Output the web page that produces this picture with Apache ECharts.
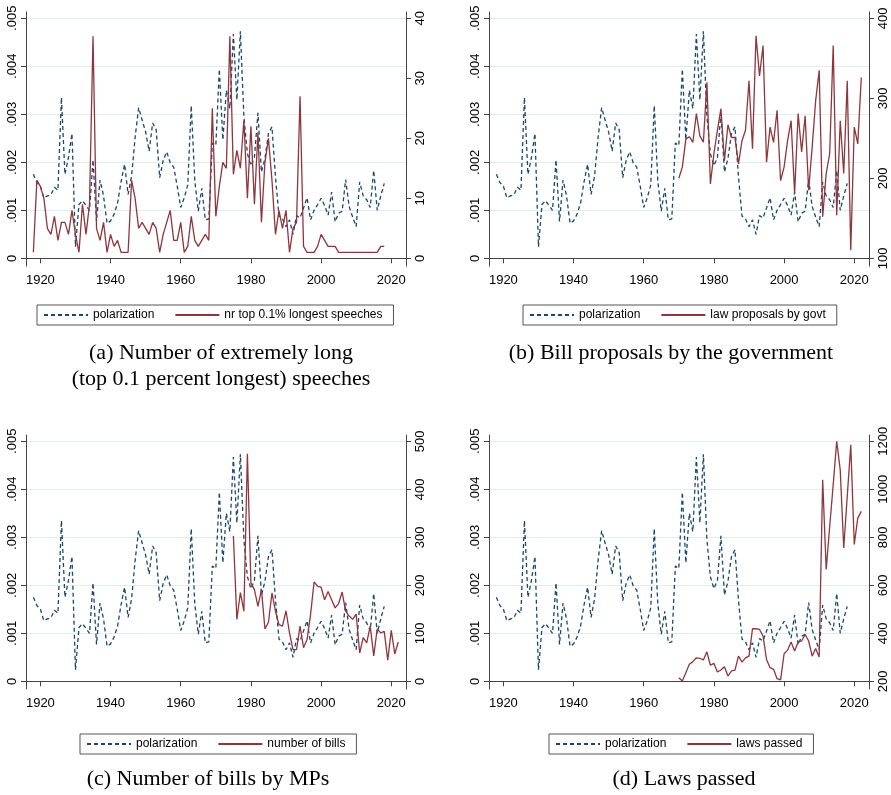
<!DOCTYPE html>
<html>
<head>
<meta charset="utf-8"/>
<title>Polarization and legislative activity</title>
<script src="https://cdn.jsdelivr.net/npm/echarts@6.0.0/dist/echarts.min.js"></script>
<style>
    html, body { margin: 0; padding: 0; background: #fff; }
    #main { width: 891px; height: 795px; }
</style>
</head>
<body>
<div id="main"></div>
<script>
    // ---- data ----
    var polStart = 1918;   // polarization: one value per year 1918-2018
    var polarization = [
        .00175, .00158, .0015, .00126, .0013, .00132, .00148, .00142, .00335, .00175,
        .0021, .0026, .00024, .00112, .0012, .0011, .001, .00205, .00077, .00163,
        .0013, .00073, .00078, .00092, .00115, .0016, .00196, .00133, .00172, .00252,
        .00314, .00288, .00263, .00223, .00282, .00268, .00168, .00204, .00222, .00199,
        .0019, .0015, .00106, .00126, .00153, .00318, .00162, .00098, .00146, .0008,
        .00082, .0024, .00235, .00394, .00247, .0035, .00312, .00467, .0033, .00473,
        .00295, .00218, .00193, .0021, .00303, .0018, .00208, .0026, .00274, .0017,
        .00088, .00082, .00066, .0008, .0005, .00089, .00084, .00105, .00126, .0008,
        .001, .00112, .00125, .0011, .0009, .00138, .00076, .00094, .00098, .00164,
        .00108, .00086, .00066, .00159, .0013, .00122, .00106, .00183, .001, .0013,
        .00156
    ];

    var speechStart = 1918;   // nr top 0.1% longest speeches, 1918-2018
    var speeches = [
        1, 13, 12, 10, 5, 4, 7, 3, 6, 6,
        4, 8, 4, 1, 9, 4, 9, 37, 5, 3,
        6, 1, 4, 2, 3, 1, 1, 1, 13, 10,
        5, 6, 5, 4, 6, 5, 1, 4, 6, 8,
        3, 3, 6, 1, 2, 7, 3, 2, 3, 4,
        3, 25, 7, 12, 16, 15, 37, 14, 18, 15,
        23, 10, 22, 9, 21, 6, 16, 20, 13, 4,
        8, 5, 8, 1, 5, 6, 27, 2, 1, 1,
        1, 2, 4, 3, 2, 2, 2, 1, 1, 1,
        1, 1, 1, 1, 1, 1, 1, 1, 1, 2,
        2
    ];

    var govtStart = 1970;   // law proposals by govt, 1970-2022
    var govtProposals = [
        200, 214, 249, 252, 245, 281, 253, 245, 320, 193,
        231, 260, 287, 222, 267, 251, 251, 218, 247, 260,
        322, 237, 378, 328, 366, 220, 264, 245, 285, 197,
        214, 247, 272, 181, 281, 233, 278, 185, 239, 297,
        335, 152, 206, 231, 366, 154, 272, 206, 322, 110,
        264, 243, 326
    ];

    var billsStart = 1975;   // number of bills by MPs, 1975-2022
    var bills = [
        303, 129, 185, 146, 474, 205, 191, 156, 191, 109,
        123, 184, 146, 118, 115, 147, 101, 66, 66, 115,
        70, 87, 139, 207, 198, 196, 170, 187, 170, 153,
        162, 186, 146, 136, 129, 140, 59, 91, 80, 115,
        53, 109, 101, 104, 44, 106, 57, 82
    ];

    var lawsStart = 1970;   // laws passed, 1970-2022
    var laws = [
        215, 201, 236, 271, 282, 298, 296, 289, 323, 267,
        275, 239, 247, 261, 222, 243, 247, 305, 280, 298,
        305, 419, 419, 416, 389, 291, 257, 250, 211, 206,
        315, 330, 364, 326, 364, 368, 395, 368, 305, 337,
        301, 1040, 666, 845, 1020, 1200, 1081, 756, 970, 1185,
        770, 880, 908
    ];

    var xTicks = [1920, 1940, 1960, 1980, 2000, 2020];
    var leftTicks = [0, .001, .002, .003, .004, .005];
    var leftLabels = ['0', '.001', '.002', '.003', '.004', '.005'];
    var rightTicksA = [0, 10, 20, 30, 40];
    var rightTicksB = [100, 200, 300, 400];
    var rightTicksC = [0, 100, 200, 300, 400, 500];
    var rightTicksD = [200, 400, 600, 800, 1000, 1200];

    var seriesNames = ['nr top 0.1% longest speeches', 'law proposals by govt', 'number of bills', 'laws passed'];
    var captions = [
        ['(a) Number of extremely long', '(top 0.1 percent longest) speeches'],
        ['(b) Bill proposals by the government'],
        ['(c) Number of bills by MPs'],
        ['(d) Laws passed']
    ];

    // ---- helpers ----
    function pairs(start, values) {
        return values.map(function (v, i) { return [start + i, v]; });
    }
    // stata leaves a little room above and below the outer ticks
    function padRange(lo, hi) {
        var span = hi - lo;
        return [lo - span * 0.032, hi + span * 0.0262];
    }
    function plain(v) {
        return String(Math.round(v));
    }

    var NAVY = '#1a476f';
    var MAROON = '#90353b';
    var AXIS = '#444';
    var GRIDC = '#e3ecee';
    var SANS = '"Liberation Sans", Arial, sans-serif';
    var SERIF = '"Liberation Serif", "DejaVu Serif", serif';

    var panels = [
        {left: 26, top: 12, start: speechStart, values: speeches, ticks: rightTicksA, legend: [37, 305], cap: [221, 353]},
        {left: 489, top: 12, start: govtStart, values: govtProposals, ticks: rightTicksB, legend: [523, 305], cap: [671, 353]},
        {left: 26, top: 435, start: billsStart, values: bills, ticks: rightTicksC, legend: [80, 734], cap: [208, 779]},
        {left: 489, top: 435, start: lawsStart, values: laws, ticks: rightTicksD, legend: [549, 734], cap: [684, 779]}
    ];

    var option = {
        backgroundColor: '#fff',
        animation: false,
        grid: [], xAxis: [], yAxis: [], series: [], legend: [], graphic: []
    };

    panels.forEach(function (p, i) {
        option.grid.push({left: p.left, top: p.top, width: 380, height: 254, outerBoundsMode: 'none', containLabel: false});

        option.xAxis.push({
            type: 'value', gridIndex: i, min: 1915.9, max: 2024.2,
            axisLine: {show: true, lineStyle: {color: AXIS, width: 1}},
            axisTick: {show: true, length: 5, customValues: xTicks, lineStyle: {color: AXIS}},
            axisLabel: {customValues: xTicks, margin: 8, color: '#000', fontFamily: SANS, fontSize: 13, formatter: plain},
            splitLine: {show: false}
        });

        var lr = padRange(0, .005);
        option.yAxis.push({
            type: 'value', gridIndex: i, position: 'left', min: lr[0], max: lr[1],
            axisLine: {show: true, lineStyle: {color: AXIS, width: 1}},
            axisTick: {show: true, length: 5, customValues: leftTicks, lineStyle: {color: AXIS}},
            axisLabel: {
                customValues: leftTicks, rotate: 90, margin: 7, color: '#000', fontFamily: SANS, fontSize: 13,
                formatter: function (v) { return leftLabels[Math.round(v * 1000)]; }
            },
            splitLine: {show: true, lineStyle: {color: GRIDC, width: 1}}
        });

        var rr = padRange(p.ticks[0], p.ticks[p.ticks.length - 1]);
        option.yAxis.push({
            type: 'value', gridIndex: i, position: 'right', min: rr[0], max: rr[1],
            axisLine: {show: true, lineStyle: {color: AXIS, width: 1}},
            axisTick: {show: true, length: 5, customValues: p.ticks, lineStyle: {color: AXIS}},
            axisLabel: {customValues: p.ticks, rotate: 90, margin: 8, color: '#000', fontFamily: SANS, fontSize: 13, formatter: plain},
            splitLine: {show: false}
        });

        option.series.push({
            type: 'line', name: 'polarization', xAxisIndex: i, yAxisIndex: 2 * i,
            data: pairs(polStart, polarization), symbol: 'none', z: 2,
            lineStyle: {color: NAVY, width: 1.3, type: [4, 3]}, itemStyle: {color: NAVY}
        });
        option.series.push({
            type: 'line', name: seriesNames[i], xAxisIndex: i, yAxisIndex: 2 * i + 1,
            data: pairs(p.start, p.values), symbol: 'none', z: 3,
            lineStyle: {color: MAROON, width: 1.3}, itemStyle: {color: MAROON}
        });

        // legend: plain line samples, no marker dots
        option.legend.push({
            data: ['polarization', seriesNames[i]], selectedMode: false,
            left: p.legend[0], top: p.legend[1], orient: 'horizontal',
            itemWidth: 44, itemHeight: 12, itemGap: 20,
            itemStyle: {opacity: 0},
            padding: [4, 11, 4, 6], borderColor: '#555', borderWidth: 1,
            textStyle: {fontFamily: SANS, fontSize: 12, color: '#000'}
        });

        captions[i].forEach(function (line, k) {
            option.graphic.push({
                type: 'text', x: p.cap[0], y: p.cap[1] + k * 26,
                style: {text: line, fill: '#000', font: '22px ' + SERIF, textAlign: 'center', textVerticalAlign: 'middle'}
            });
        });
    });

    var chart = echarts.init(document.getElementById('main'));
    chart.setOption(option);
    window.onresize = function () {
        chart.resize();
    };
</script>
</body>
</html>
